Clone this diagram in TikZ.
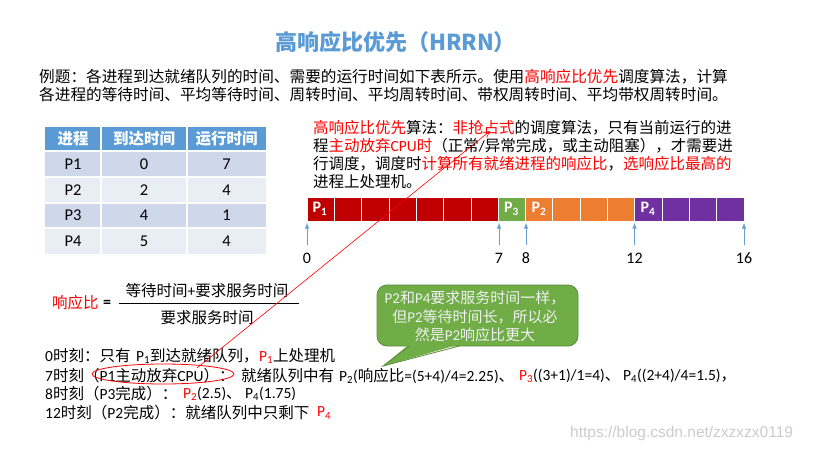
\documentclass[tikz,border=0pt]{standalone}
\usepackage{fontspec}
\setmainfont{Carlito}
\newfontfamily\cjkfont{Noto Sans CJK SC}
\newfontfamily\wmfont{Liberation Sans}
\makeatletter
\XeTeXinterchartokenstate=1
\newXeTeXintercharclass\CJKcls
\count@="3000
\loop \XeTeXcharclass\count@=\CJKcls \advance\count@ by 1 \ifnum\count@<"3040 \repeat
\count@="4E00
\loop \XeTeXcharclass\count@=\CJKcls \advance\count@ by 1 \ifnum\count@<"A000 \repeat
\count@="FF00
\loop \XeTeXcharclass\count@=\CJKcls \advance\count@ by 1 \ifnum\count@<"FFF0 \repeat
\XeTeXinterchartoks 0 \CJKcls = {\cjkfont}
\XeTeXinterchartoks 4095 \CJKcls = {\cjkfont}
\XeTeXinterchartoks \CJKcls 0 = {\rmfamily}
\XeTeXinterchartoks \CJKcls 4095 = {\rmfamily}
\makeatother
\usetikzlibrary{arrows.meta,shapes.geometric}
\definecolor{titleblue}{HTML}{5B9BD5}
\definecolor{hdr}{HTML}{5B9BD5}
\definecolor{rowA}{HTML}{CFD8EA}
\definecolor{rowB}{HTML}{E9EDF4}
\definecolor{pone}{HTML}{C00000}
\definecolor{pthree}{HTML}{70AD47}
\definecolor{ptwo}{HTML}{ED7D31}
\definecolor{pfour}{HTML}{7030A0}
\definecolor{axblue}{HTML}{6A9FD3}
\definecolor{hl}{HTML}{FF0000}
\definecolor{bubgreen}{HTML}{70AD47}
\definecolor{bubborder}{HTML}{5A8C3A}
\begin{document}
\begin{tikzpicture}[x=1pt,y=-1pt,
  txt/.style={anchor=west,inner sep=0pt,font=\fontsize{15.5}{18}\selectfont},
  cell/.style={inner sep=0pt,font=\fontsize{15.5}{18}\selectfont},
  hcell/.style={inner sep=0pt,text=white,font=\fontsize{15.5}{18}\selectfont\bfseries},
  glabel/.style={inner sep=0pt,text=white,font=\fontsize{16}{18}\selectfont\bfseries},
  num/.style={inner sep=0pt,font=\fontsize{16}{18}\selectfont},
  axarrow/.style={axblue,line width=1pt,-{Latex[length=6pt,width=4.5pt]}},
  gcell/.style={draw=white,line width=0.7pt}
]
\useasboundingbox (0,0) rectangle (813,452);
\fill[white] (0,0) rectangle (813,452);

% title
\node[inner sep=0pt,text=titleblue,font={\XeTeXinterchartokenstate=0\cjkfont\fontsize{22}{26}\selectfont\bfseries}] (title) at (395.5,42) {高响应比优先（HRRN）};

% example text
\node[txt,font=\fontsize{15.65}{19}\selectfont] (ex1) at (39,77) {例题：各进程到达就绪队列的时间、需要的运行时间如下表所示。使用\textcolor{hl}{高响应比优先}调度算法，计算};
\node[txt,font=\fontsize{15.65}{19}\selectfont] (ex2) at (39,95) {各进程的等待时间、平均等待时间、周转时间、平均周转时间、带权周转时间、平均带权周转时间。};

% table
\fill[hdr] (45,127) rectangle (266,151);
\fill[rowA] (45,151) rectangle (266,177);
\fill[rowB] (45,177) rectangle (266,203);
\fill[rowA] (45,203) rectangle (266,228);
\fill[rowB] (45,228) rectangle (266,254);
\draw[white,line width=1.5pt] (101,127) -- (101,254) (187,127) -- (187,254);
\draw[white,line width=1.5pt] (45,177) -- (266,177) (45,203) -- (266,203) (45,228) -- (266,228);
\draw[white,line width=2.2pt] (45,151) -- (266,151);
\node[hcell] (h1) at (73,139) {进程};
\node[hcell] (h2) at (144,139) {到达时间};
\node[hcell] (h3) at (226.5,139) {运行时间};
\foreach \n/\a/\r/\yy [count=\i] in {P1/0/7/164.5,P2/2/4/190,P3/4/1/215.5,P4/5/4/241} {
  \node[cell,font=\fontsize{16.5}{18}\selectfont] (c\i a) at (73,\yy) {\n};
  \node[cell,font=\fontsize{16.5}{18}\selectfont] (c\i b) at (144,\yy) {\a};
  \node[cell,font=\fontsize{16.5}{18}\selectfont] (c\i c) at (226.5,\yy) {\r};
}

% algorithm description
\node[txt] (d1) at (313,128) {\textcolor{hl}{高响应比优先}算法：\textcolor{hl}{非抢占式}的调度算法，只有当前运行的进};
\node[txt] (d2) at (313,146) {程\textcolor{hl}{主动放弃CPU时}（正常/异常完成，或主动阻塞），才需要进};
\node[txt] (d3) at (313,164) {行调度，调度时\textcolor{hl}{计算所有就绪进程的响应比}，\textcolor{hl}{选响应比最高的}};
\node[txt] (d4) at (313,182) {进程上处理机。};

% gantt
\foreach \i/\c in {0/pone,1/pone,2/pone,3/pone,4/pone,5/pone,6/pone,7/pthree,8/ptwo,9/ptwo,10/ptwo,11/ptwo,12/pfour,13/pfour,14/pfour,15/pfour} {
  \filldraw[gcell,fill=\c] ({307+27.3125*\i},197) rectangle ({307+27.3125*(\i+1)},221);
}
\node[glabel] (g1) at (320,209) {P\textsubscript{1}};
\node[glabel] (g3) at (511.5,209) {P\textsubscript{3}};
\node[glabel] (g2) at (539,209) {P\textsubscript{2}};
\node[glabel] (g4) at (648,209) {P\textsubscript{4}};

% time axis
\foreach \x/\t/\k in {307/0/a,499/7/b,526/8/c,634.5/12/d,744/16/e} {
  \node[num] (n\k) at (\x,258.5) {\t};
  \coordinate (s\k) at (\x,245);
  \coordinate (e\k) at (\x,222.5);
  \draw[axarrow] (s\k) -- (e\k);
}

% formula
\node[txt,text=hl] (ratio) at (52,303) {响应比};
\node[txt,font=\fontsize{16}{18}\selectfont\bfseries] (eq) at (103,303.5) {=};
\coordinate (fl) at (119,303);
\coordinate (fr) at (299,303);
\draw[line width=0.9pt] (fl) -- (fr);
\node[cell] (numer) at (207,291) {等待时间+要求服务时间};
\node[cell] (denom) at (207,318) {要求服务时间};

% bubble
\node[draw=bubborder,fill=bubgreen,rounded corners=10pt,minimum width=201pt,minimum height=61pt,line width=0.8pt] (bub) at (477.5,315.5) {};
\fill[bubgreen] (409,344.5) -- (383,366) -- (459,344.5) -- cycle;
\draw[bubborder,line width=0.8pt] (409.5,346) -- (383,366) -- (459.5,346);
\node[inner sep=0pt,text=white!94!black,align=center,font=\fontsize{15}{18.5}\selectfont] (bubtxt) at (475,316.5) {P2和P4要求服务时间一样，\\但P2等待时间长，所以必\\然是P2响应比更大};

% timeline lines
\node[txt] (t0a) at (45,356) {0时刻：只有};
\node[txt] (t0b) at (136,356) {P\textsubscript{1}到达就绪队列，};
\node[txt] (t0c) at (259,356) {\textcolor{hl}{P\textsubscript{1}}上处理机};

\node[txt] (t7a) at (45,376) {7时刻（P1主动放弃CPU）：};
\node[txt] (t7b) at (241,376) {就绪队列中有};
\node[txt] (t7c) at (339,376) {P\textsubscript{2}(响应比=(5+4)/4=2.25)、};
\node[txt] (t7d) at (519,376) {\textcolor{hl}{P\textsubscript{3}}((3+1)/1=4)、};
\node[txt] (t7e) at (623,376) {P\textsubscript{4}((2+4)/4=1.5)，};

\node[txt] (t8a) at (45,394) {8时刻（P3完成）：};
\node[txt] (t8b) at (183,394) {\textcolor{hl}{P\textsubscript{2}}(2.5)、};
\node[txt] (t8c) at (245,394) {P\textsubscript{4}(1.75)};

\node[txt] (t12a) at (45,413) {12时刻（P2完成）：就绪队列中只剩下};
\node[txt] (t12b) at (317,413) {\textcolor{hl}{P\textsubscript{4}}};

% ellipse and arrow
\node[draw=hl,ellipse,minimum width=142pt,minimum height=20pt,inner sep=0pt,line width=0.8pt] (ell) at (163,374) {};
\coordinate (rs) at (197,368);
\coordinate (re) at (490,131);
\draw[hl,line width=0.6pt,-{Straight Barb[length=6pt,width=6pt]}] (rs) -- (re);

% watermark
\node[anchor=west,inner sep=0pt,text=black!20,font=\wmfont\fontsize{15.5}{18}\selectfont] (wm) at (570,433) {https://blog.csdn.net/zxzxzx0119};
\end{tikzpicture}
\end{document}
